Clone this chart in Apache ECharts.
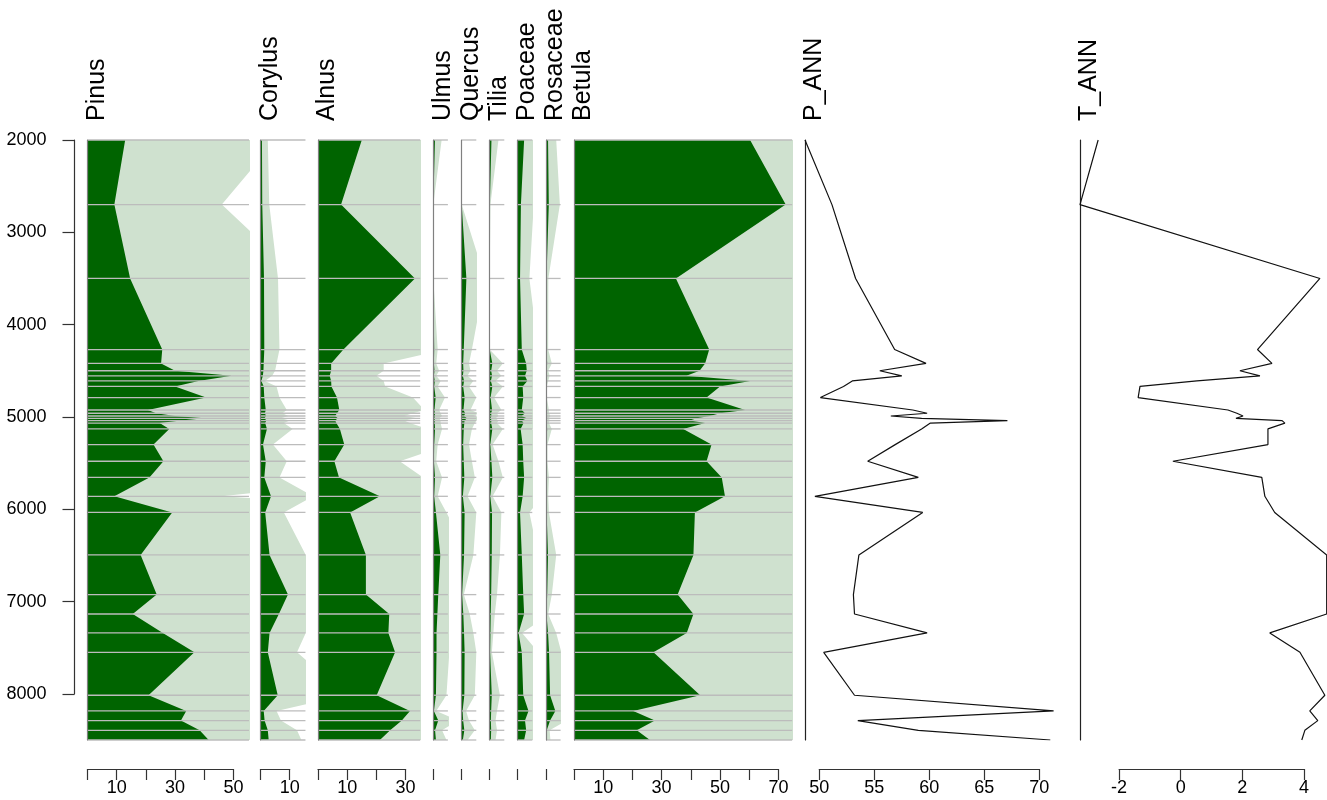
<!DOCTYPE html>
<html>
<head>
<meta charset="utf-8">
<script src="https://cdn.jsdelivr.net/npm/echarts@6/dist/echarts.min.js"></script>
<style>
html, body { margin: 0; padding: 0; background: #ffffff; }
#chart { width: 1327px; height: 800px; }
</style>
</head>
<body>
<div id="chart"></div>
<script>
// Sample ages (years BP)
const ages = [2000, 2700, 3500, 4270, 4420, 4500, 4555, 4610, 4670, 4790, 4925, 4960, 4990, 5015, 5040, 5067, 5130, 5300, 5480, 5655, 5860, 6035, 6495, 6925, 7135, 7340, 7550, 8015, 8185, 8290, 8395, 8500];

// Pollen percentages
const pinus    = [12.9, 9.2, 14.6, 25.6, 25.2, 30, 49.3, 38, 30, 40.6, 20.7, 23.5, 30, 40, 32, 24.7, 28, 22.6, 26, 21.2, 9.2, 29, 18.2, 23.7, 15.5, 25.8, 36.6, 20.9, 33.8, 32, 38.4, 41.5];
const corylus  = [0.5, 0.6, 1.2, 1.3, 1.1, 1.0, 0.8, 0.3, 1.1, 1.3, 1.8, 1.5, 1.9, 1.4, 2.0, 1.6, 2.2, 0.85, 1.8, 1.3, 3.6, 1.6, 3.1, 9.4, 6.3, 3.1, 2.5, 5.9, 1.1, 1.4, 2.5, 2.8];
const alnus    = [15.0, 7.9, 33.2, 8.7, 4.5, 4.5, 4.0, 4.5, 4.6, 6.5, 7.3, 6.5, 5.9, 6.8, 5.9, 6.3, 7.5, 9.0, 5.6, 7.2, 21.2, 11, 16.4, 16.4, 24.4, 24.1, 26.4, 20.1, 31.5, 28.7, 24.7, 21.2];
const ulmus    = [0.57, 0, 0, 0.3, 0.2, 0.4, 0.2, 0.5, 0.3, 0.8, 0.4, 0.5, 0.6, 0.4, 0.5, 0.5, 0.6, 0.3, 0.2, 0.6, 0.3, 0.9, 2.4, 1.7, 1.4, 1.1, 1.1, 0.9, 0.2, 1.7, 0.6, 0.9];
const quercus  = [0, 0, 1.6, 0.7, 0.5, 0.6, 0.4, 0.8, 0.5, 1.0, 0.6, 1.2, 0.8, 1.8, 1.0, 0.9, 0.7, 0.5, 0.7, 0.9, 0.4, 1.0, 0.8, 0.15, 0.55, 0.8, 1.0, 0.9, 0.3, 0.5, 0.9, 0.4];
const tilia    = [0.6, 0.05, 0, 0, 0.9, 0.5, 0.8, 0.4, 0.9, 0.3, 0.8, 0.5, 0.6, 0.4, 0.6, 0.5, 0.9, 0.2, 0.6, 0.9, 0.2, 0.8, 0.7, 0.5, 0.35, 0.25, 0.15, 0.7, 0.5, 0.4, 0.5, 0.4];
const poaceae  = [2.2, 1.1, 0.8, 1.4, 2.9, 3.1, 2.5, 3.3, 1.7, 1.9, 1.4, 2.5, 1.4, 3.1, 1.4, 2.0, 1.0, 1.7, 1.9, 2.2, 1.7, 0.8, 1.4, 1.9, 2.2, 0.3, 1.4, 1.9, 3.7, 2.5, 2.9, 2.2];
const rosaceae = [0.7, 0.95, 0.16, 0.15, 0.4, 0.15, 0.25, 0.15, 0.05, 0.05, 0.2, 0.2, 0.3, 0.2, 0.25, 0.2, 0.4, 0.1, 0.1, 0.2, 0.15, 0.2, 0.7, 0.4, 0.15, 0.7, 1.05, 1.4, 3.2, 1.4, 0.25, 0.3];
const betula   = [60.3, 72.5, 34.9, 46.3, 44.9, 43, 38.5, 60.3, 50, 45.4, 58.6, 50, 46.5, 42, 39.7, 44.9, 37.4, 47.1, 45.4, 50.6, 51.7, 41.4, 40.9, 35.5, 40.9, 38.6, 27.2, 43.2, 20.3, 27.7, 21.5, 26];

// Reconstructed climate
const pAnn = [48.7, 51.15, 53.3, 56.85, 59.7, 55.5, 57.5, 53.0, 52.2, 50.1, 58.5, 59.8, 56.5, 59.3, 67.1, 60.1, 59.3, 56.9, 54.4, 59.0, 49.6, 59.4, 53.6, 53.1, 53.2, 59.8, 50.4, 53.2, 71.3, 53.5, 59.0, 71.0];
const tAnn = [-2.68, -3.27, 4.53, 2.5, 2.97, 1.93, 2.58, 0.53, -1.32, -1.38, 1.54, 1.83, 2.03, 1.8, 3.3, 3.39, 2.84, 2.84, -0.25, 2.64, 2.74, 3.06, 4.75, 4.75, 4.75, 2.9, 3.88, 4.69, 4.2, 4.46, 4.04, 3.94];

// Age axis ticks
const ageTicks = [2000, 3000, 4000, 5000, 6000, 7000, 8000];

// ---- layout ----
const FONT = "'Liberation Sans', Arial, Helvetica, sans-serif";
const TOP = 140, HEIGHT = 600;
const AGE_MIN = 2000, AGE_MAX = 8500;
const PX = 2.92;          // pixels per percent on the pollen panels
const EXAG = 5;           // exaggeration of the pale curves
const DARK = '#006400', PALE = '#cfe1cf', BAR = '#bcbcbc';
const AXIS_Y = 768;

const pollen = [
  { name: 'Pinus',    vals: pinus,    left: 87.5,  max: 55.3, tick: [0, 50, 10], hide: [0, 20, 40] },
  { name: 'Corylus',  vals: corylus,  left: 260.5, max: 15.4, tick: [0, 10, 10], hide: [0] },
  { name: 'Alnus',    vals: alnus,    left: 318,   max: 35,   tick: [0, 30, 10], hide: [0, 20] },
  { name: 'Ulmus',    vals: ulmus,    left: 433.3, max: 5 },
  { name: 'Quercus',  vals: quercus,  left: 461.7, max: 5 },
  { name: 'Tilia',    vals: tilia,    left: 489.7, max: 5 },
  { name: 'Poaceae',  vals: poaceae,  left: 517.7, max: 5 },
  { name: 'Rosaceae', vals: rosaceae, left: 546,   max: 5 },
  { name: 'Betula',   vals: betula,   left: 574,   max: 74.7, tick: [0, 70, 10], hide: [0, 20, 40, 60] }
];
const climate = [
  { name: 'P_ANN', vals: pAnn, left: 805,  min: 48.7,  max: 71.4, scale: 11.0, tick: [50, 70, 5] },
  { name: 'T_ANN', vals: tAnn, left: 1080, min: -3.27, max: 4.76, scale: 30.8, tick: [-2, 4, 2] }
];

const grid = [], xAxis = [], yAxis = [], series = [], graphic = [];

function addTitle(text, left) {
  graphic.push({
    type: 'text', x: left - 3, y: 121, rotation: Math.PI / 2, silent: true,
    style: { text: text, font: '25px ' + FONT, fill: '#000', align: 'left', verticalAlign: 'top' }
  });
}

function addBottomAxis(left, scale, pmin, tick, hide) {
  const gi = grid.length;
  grid.push({ left: left + (tick[0] - pmin) * scale, top: AXIS_Y, width: (tick[1] - tick[0]) * scale, height: 1 });
  xAxis.push({
    gridIndex: gi, type: 'value', min: tick[0], max: tick[1], interval: tick[2], position: 'bottom',
    axisLine: { show: true, onZero: false, lineStyle: { color: '#333', width: 1.2 } },
    axisTick: { show: true, length: 11, lineStyle: { color: '#333', width: 1.2 } },
    axisLabel: {
      show: true, margin: 10, color: '#000', fontSize: 18, fontFamily: FONT,
      formatter: v => (hide && hide.indexOf(v) >= 0) ? '' : String(v)
    },
    splitLine: { show: false }
  });
  yAxis.push({ gridIndex: gi, type: 'value', show: false });
}

// pollen panels
pollen.forEach(p => {
  const gi = grid.length;
  const width = p.max * PX;
  grid.push({ left: p.left, top: TOP, width: width, height: HEIGHT });
  xAxis.push({ gridIndex: gi, type: 'value', min: 0, max: p.max, show: false });
  yAxis.push({
    gridIndex: gi, type: 'value', min: AGE_MIN, max: AGE_MAX, inverse: true, z: 10,
    axisLine: { show: true, onZero: false, lineStyle: { color: '#808080', width: 1.2 } },
    axisTick: { show: false }, axisLabel: { show: false }, splitLine: { show: false }
  });
  const pts = p.vals.map((v, i) => [v, ages[i]]);
  const area = (mult, color, z) => ({
    type: 'custom', xAxisIndex: gi, yAxisIndex: gi, clip: true, silent: true, z: z,
    data: pts,
    renderItem: (params, api) => {
      if (params.dataIndex !== 0) return null;
      const poly = [api.coord([0, ages[0]])];
      p.vals.forEach((v, i) => poly.push(api.coord([v * mult, ages[i]])));
      poly.push(api.coord([0, ages[ages.length - 1]]));
      return { type: 'polygon', shape: { points: poly }, style: { fill: color } };
    }
  });
  series.push(area(EXAG, PALE, 1));
  series.push(area(1, DARK, 2));
  series.push({
    type: 'custom', xAxisIndex: gi, yAxisIndex: gi, silent: true, z: 3,
    data: ages.map(a => [0, a]),
    renderItem: (params, api) => {
      const a = api.coord([0, api.value(1)]);
      const b = api.coord([p.max, api.value(1)]);
      return { type: 'line', shape: { x1: a[0], y1: a[1], x2: b[0], y2: b[1] },
               style: { stroke: BAR, lineWidth: 1.3 } };
    }
  });
  addTitle(p.name, p.left);
  if (p.tick) {
    addBottomAxis(p.left, PX, 0, p.tick, p.hide);
  } else {
    // single zero tick for the narrow panels
    const ai = grid.length;
    grid.push({ left: p.left, top: AXIS_Y, width: width, height: 1 });
    xAxis.push({
      gridIndex: ai, type: 'value', min: 0, max: p.max, position: 'bottom',
      axisLine: { show: false },
      axisTick: { show: true, length: 11, customValues: [0], lineStyle: { color: '#333', width: 1.2 } },
      axisLabel: { show: false }, splitLine: { show: false }
    });
    yAxis.push({ gridIndex: ai, type: 'value', show: false });
  }
});

// climate panels
climate.forEach(c => {
  const gi = grid.length;
  grid.push({ left: c.left, top: TOP, width: (c.max - c.min) * c.scale, height: HEIGHT });
  xAxis.push({ gridIndex: gi, type: 'value', min: c.min, max: c.max, show: false });
  yAxis.push({
    gridIndex: gi, type: 'value', min: AGE_MIN, max: AGE_MAX, inverse: true,
    axisLine: { show: true, onZero: false, lineStyle: { color: '#222', width: 1.2 } },
    axisTick: { show: false }, axisLabel: { show: false }, splitLine: { show: false }
  });
  series.push({
    type: 'line', xAxisIndex: gi, yAxisIndex: gi, silent: true,
    data: c.vals.map((v, i) => [v, ages[i]]),
    showSymbol: false, symbol: 'none',
    lineStyle: { color: '#111', width: 1.2 }
  });
  addTitle(c.name, c.left);
  addBottomAxis(c.left, c.scale, c.min, c.tick, null);
});

// age axis on the left
{
  const gi = grid.length;
  grid.push({ left: 74.5, top: TOP, width: 1, height: (ageTicks[ageTicks.length - 1] - AGE_MIN) / (AGE_MAX - AGE_MIN) * HEIGHT });
  xAxis.push({ gridIndex: gi, type: 'value', show: false });
  yAxis.push({
    gridIndex: gi, type: 'value', min: ageTicks[0], max: ageTicks[ageTicks.length - 1],
    interval: ageTicks[1] - ageTicks[0], inverse: true, position: 'left',
    axisLine: { show: true, onZero: false, lineStyle: { color: '#333', width: 1.2 } },
    axisTick: { show: true, length: 12, lineStyle: { color: '#333', width: 1.2 } },
    axisLabel: { show: true, margin: 28, color: '#000', fontSize: 18, fontFamily: FONT,
                 formatter: v => String(v) },
    splitLine: { show: false }
  });
}

const chart = echarts.init(document.getElementById('chart'));
chart.setOption({
  animation: false,
  backgroundColor: '#ffffff',
  grid: grid, xAxis: xAxis, yAxis: yAxis, series: series, graphic: graphic
});
</script>
</body>
</html>
